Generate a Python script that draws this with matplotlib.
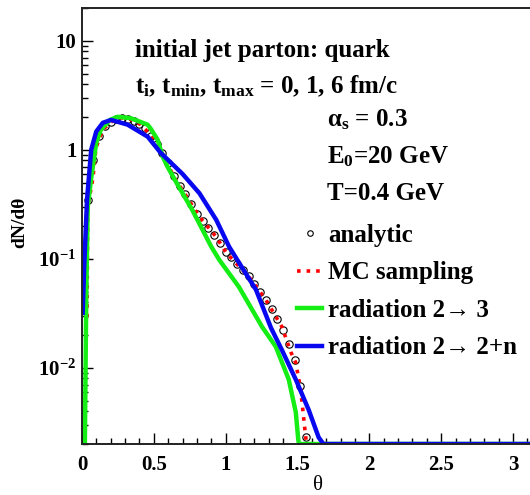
import numpy as np
import matplotlib
matplotlib.use("Agg")
import matplotlib.pyplot as plt
from matplotlib.ticker import FixedLocator, FixedFormatter, MultipleLocator, LogLocator, NullFormatter

plt.rcParams['font.family'] = ['Liberation Serif', 'DejaVu Serif']
plt.rcParams['font.weight'] = 'bold'
plt.rcParams['mathtext.fontset'] = 'custom'
plt.rcParams['mathtext.rm'] = 'Liberation Serif:bold'
plt.rcParams['mathtext.it'] = 'Liberation Serif:bold'
plt.rcParams['mathtext.bf'] = 'Liberation Serif:bold'

# analytic (open circles)
theta_ana = [0.04, 0.08, 0.12, 0.16, 0.20, 0.24, 0.28, 0.32, 0.36, 0.40,
             0.44, 0.48, 0.52, 0.56, 0.60, 0.64, 0.68, 0.72, 0.76, 0.80,
             0.84, 0.88, 0.92, 0.96, 1.00, 1.04, 1.08, 1.12, 1.16, 1.20,
             1.24, 1.28, 1.32, 1.36, 1.40, 1.44, 1.48, 1.52, 1.56]
dn_ana = [0.35, 0.80, 1.35, 1.65, 1.80, 1.92, 1.95, 1.90, 1.83, 1.73,
          1.58, 1.35, 1.12, 0.94, 0.76, 0.57, 0.47, 0.39, 0.32, 0.26,
          0.22, 0.19, 0.165, 0.14, 0.116, 0.103, 0.090, 0.079, 0.069, 0.059,
          0.050, 0.042, 0.035, 0.028, 0.022, 0.0165, 0.0118, 0.0068, 0.0023]

# MC sampling (red dotted)
theta_mc = [0.035, 0.04, 0.076, 0.097, 0.145, 0.20, 0.27, 0.34, 0.41, 0.457,
            0.547, 0.644, 0.713, 0.817, 0.934, 1.003, 1.163, 1.28, 1.391, 1.453,
            1.488, 1.522, 1.557, 1.565, 3.14]
dn_mc = [0.029, 0.30, 0.55, 1.04, 1.53, 1.80, 1.97, 1.90, 1.70, 1.46,
         1.0, 0.55, 0.40, 0.243, 0.159, 0.114, 0.068, 0.042, 0.0238, 0.014,
         0.0111, 0.0063, 0.0023, 0.0, 0.0]

# radiation 2->3 (green)
theta_23 = [0.02, 0.03, 0.04, 0.064, 0.099, 0.131, 0.194, 0.249, 0.339, 0.457,
            0.48, 0.526, 0.561, 0.595, 0.657, 0.768, 0.90, 0.955, 1.093, 1.253,
            1.349, 1.439, 1.488, 1.505, 1.51, 3.14]
dn_23 = [0.0, 0.05, 0.30, 0.55, 1.16, 1.53, 1.88, 2.01, 1.95, 1.70,
         1.55, 1.24, 0.87, 0.70, 0.50, 0.28, 0.129, 0.098, 0.055, 0.0238,
         0.0156, 0.0078, 0.0039, 0.0022, 0.0, 0.0]

# radiation 2->2+n (blue)
theta_22n = [0.005, 0.015, 0.035, 0.064, 0.099, 0.145, 0.203, 0.318, 0.457, 0.547,
             0.70, 0.817, 0.934, 1.024, 1.093, 1.211, 1.315, 1.391, 1.488, 1.578,
             1.647, 1.68, 3.14]
dn_22n = [0.032, 0.083, 0.35, 1.0, 1.47, 1.77, 1.88, 1.70, 1.32, 0.94,
          0.60, 0.40, 0.228, 0.129, 0.092, 0.052, 0.0233, 0.0146, 0.0078, 0.0041,
          0.0023, 0.0, 0.0]

ylo, yhi = 0.002, 20.0


def floor(v):
    return np.maximum(np.array(v), ylo)


fig = plt.figure(figsize=(5.3, 4.95), dpi=100)
ax = fig.add_axes([82/530, 51/495, (533.4-82)/530, 436/495])

ax.plot(theta_ana, floor(dn_ana), 'o', mfc='none', mec='black', ms=5.3, mew=0.8, label='analytic')
ax.plot(theta_mc, floor(dn_mc), ':', color='red', lw=2.6, label='MC sampling')
ax.plot(theta_23, floor(dn_23), '-', color='#14ee14', lw=3.2, label='radiation 2→ 3')
ax.plot(theta_22n, floor(dn_22n), '-', color='#0808f0', lw=3.2, label='radiation 2→ 2+n')

ax.set_yscale('log')
ax.set_xlim(0, np.pi)
ax.set_ylim(ylo, yhi)

ax.xaxis.set_major_locator(FixedLocator([0, 0.5, 1, 1.5, 2, 2.5, 3]))
ax.xaxis.set_major_formatter(FixedFormatter(['0', '0.5', '1', '1.5', '2', '2.5', '3']))
ax.xaxis.set_minor_locator(MultipleLocator(0.1))
ax.yaxis.set_major_locator(FixedLocator([0.01, 0.1, 1, 10]))
ax.yaxis.set_major_formatter(FixedFormatter([r'$10^{-2}$', r'$10^{-1}$', '1', '10']))
ax.yaxis.set_minor_locator(LogLocator(base=10, subs=np.arange(2, 10)))
ax.yaxis.set_minor_formatter(NullFormatter())

ax.tick_params(which='both', direction='in', top=False, right=False, labelsize=15, width=1)
ax.tick_params(which='major', length=8)
ax.tick_params(which='minor', length=4)
ax.tick_params(axis='x', pad=8)
ax.tick_params(axis='y', pad=4)
for s in ax.spines.values():
    s.set_linewidth(1.4)
    s.set_color('#222222')

fig.text(318/530, 1-486/495, 'θ', fontsize=15, fontweight='normal', ha='center', va='center')
fig.text(20/530, 1-222/495, 'dN/dθ', fontsize=14, rotation=90, ha='center', va='center')

tsize = 18
fig.text(135/530, 1-50/495, 'initial jet parton: quark', fontsize=tsize, va='center')
fig.text(135/530, 1-86/495, r't$_\mathrm{i}$, t$_\mathrm{min}$, t$_\mathrm{max}$ = 0, 1, 6 fm/c',
         fontsize=tsize, va='center')
fig.text(327/530, 1-120/495, r'α$_\mathrm{s}$ = 0.3', fontsize=tsize, va='center')
fig.text(327/530, 1-157/495, r'E$_\mathrm{0}$=20 GeV', fontsize=tsize, va='center')
fig.text(327/530, 1-193/495, 'T=0.4 GeV', fontsize=tsize, va='center')

ax.legend(loc='upper left', bbox_to_anchor=(297/530, 1-224/495), bbox_transform=fig.transFigure,
          frameon=False, fontsize=tsize, handlelength=1.0, handletextpad=0.25,
          labelspacing=0.58, borderpad=0, borderaxespad=0, markerscale=0.75)

fig.savefig('out.png', dpi=100)
